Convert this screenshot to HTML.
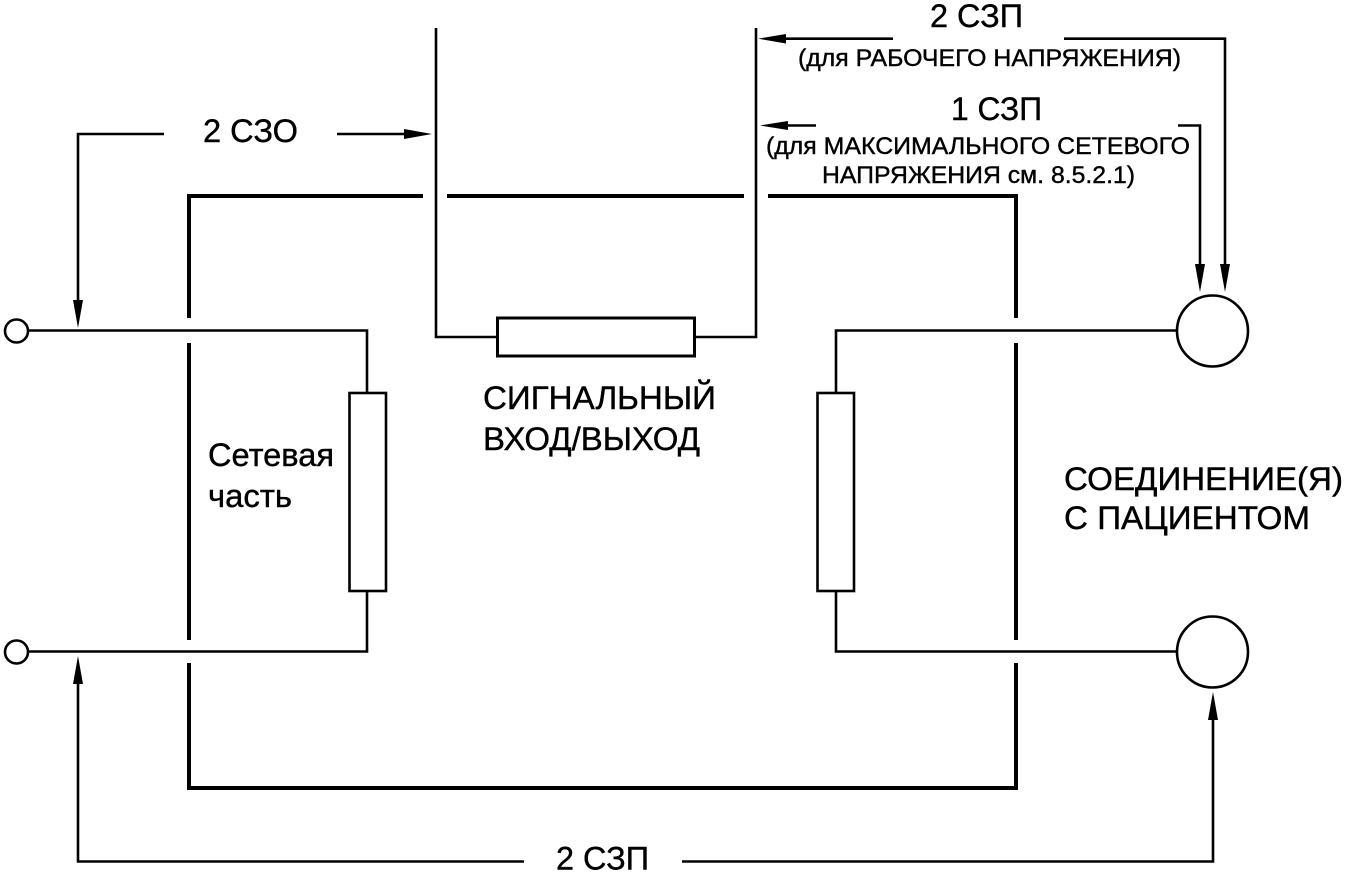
<!DOCTYPE html>
<html lang="ru">
<head>
<meta charset="utf-8">
<title>Diagram</title>
<style>
html,body{margin:0;padding:0;background:#fff;width:1346px;height:872px;overflow:hidden}
svg{display:block}
text{font-family:"Liberation Sans",sans-serif;fill:#000;stroke:#000;stroke-width:.4}
.t{font-size:32px}
.s{font-size:24px}
</style>
</head>
<body>
<svg width="1346" height="872" viewBox="0 0 1346 872" xmlns="http://www.w3.org/2000/svg">
<g fill="none" stroke="#000" stroke-width="4">
<path d="M189 318V196H423"/>
<path d="M447 196H744"/>
<path d="M768 196H1016V318"/>
<path d="M189 343V640"/>
<path d="M1016 343V640"/>
<path d="M189 663V788H1016V663"/>
</g>
<g fill="none" stroke="#000" stroke-width="2.6">
<path d="M436 28V337H497"/>
<path d="M756 28V337H695"/>
<rect x="497.500" y="318" width="197" height="38" stroke-width="3"/>
<path d="M28 330.500H367V393"/>
<path d="M28 651.500H367V591"/>
<rect x="349.500" y="393" width="36.500" height="198"/>
<path d="M1177 330.500H836V393"/>
<path d="M1177 651.500H836V591"/>
<rect x="817.500" y="393" width="36.500" height="198"/>
<circle cx="16.500" cy="331" r="11.500"/>
<circle cx="16.500" cy="652" r="11.500"/>
<circle cx="1212.500" cy="331" r="35.500"/>
<circle cx="1212.500" cy="652" r="35.500"/>
<path d="M164 134H78V305"/>
<path d="M337 134H410"/>
<path d="M78 680V861.500H524"/>
<path d="M682 861.500H1213V716"/>
<path d="M775 38.700H893"/>
<path d="M1064 38.700H1225V268"/>
<path d="M780 125.500H816"/>
<path d="M1178 125.500H1200V268"/>
</g>
<g fill="#000" stroke="none">
<path d="M78 328L73 300H83Z"/>
<path d="M78 656L73 684H83Z"/>
<path d="M432 134L404 129V139Z"/>
<path d="M758 38.700L786 34V43.500Z"/>
<path d="M760 125.500L788 121V130Z"/>
<path d="M1200 292L1195 264H1205Z"/>
<path d="M1225 292L1220 264H1230Z"/>
<path d="M1213 692L1208 720H1218Z"/>
</g>
<text class="t" x="203" y="142" textLength="95" lengthAdjust="spacingAndGlyphs">2 СЗО</text>
<text class="t" x="930" y="27" textLength="93" lengthAdjust="spacingAndGlyphs">2 СЗП</text>
<text class="t" x="951" y="120" textLength="91" lengthAdjust="spacingAndGlyphs">1 СЗП</text>
<text class="s" x="798" y="66" textLength="383" lengthAdjust="spacingAndGlyphs">(для РАБОЧЕГО НАПРЯЖЕНИЯ)</text>
<text class="s" x="766" y="154" textLength="424" lengthAdjust="spacingAndGlyphs">(для МАКСИМАЛЬНОГО СЕТЕВОГО</text>
<text class="s" x="822" y="183" textLength="313" lengthAdjust="spacingAndGlyphs">НАПРЯЖЕНИЯ см. 8.5.2.1)</text>
<text class="t" x="483" y="409" textLength="233" lengthAdjust="spacingAndGlyphs">СИГНАЛЬНЫЙ</text>
<text class="t" x="483" y="450" textLength="217" lengthAdjust="spacingAndGlyphs">ВХОД/ВЫХОД</text>
<text class="t" x="208" y="466" textLength="126" lengthAdjust="spacingAndGlyphs">Сетевая</text>
<text class="t" x="208" y="507" textLength="84" lengthAdjust="spacingAndGlyphs">часть</text>
<text class="t" x="1064" y="490" textLength="279" lengthAdjust="spacingAndGlyphs">СОЕДИНЕНИЕ(Я)</text>
<text class="t" x="1064" y="529" textLength="246" lengthAdjust="spacingAndGlyphs">С ПАЦИЕНТОМ</text>
<text class="t" x="556" y="869.500" textLength="93" lengthAdjust="spacingAndGlyphs">2 СЗП</text>
</svg>
</body>
</html>
